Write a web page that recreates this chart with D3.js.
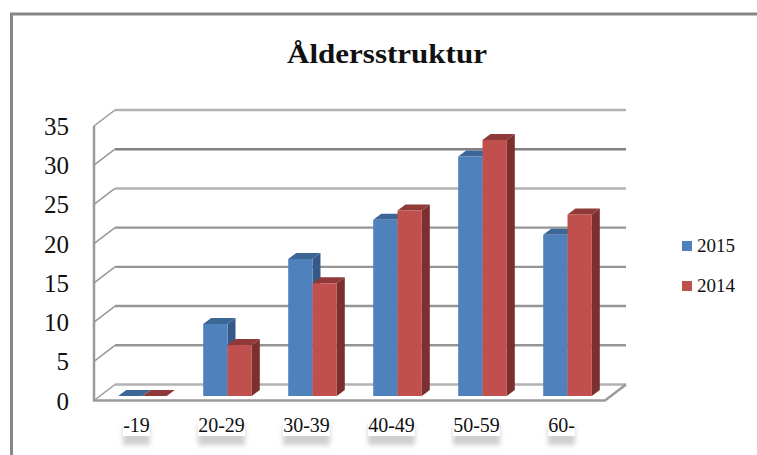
<!DOCTYPE html>
<html>
<head>
<meta charset="utf-8">
<script src="https://cdn.jsdelivr.net/npm/d3@7"></script>
<style>
    html, body { margin: 0; padding: 0; background: #fff; }
    svg { display: block; }
    text { font-family: "Liberation Serif", serif; fill: #111; }
</style>
</head>
<body>
<div id="chart"></div>
<script>
const categories = ['-19', '20-29', '30-39', '40-49', '50-59', '60-'];
const seriesNames = ['2015', '2014'];
const values2015 = [0, 9.2, 17.5, 22.5, 30.6, 20.6];
const values2014 = [0, 6.5, 14.4, 23.7, 32.7, 23.2];
const yTicks = [0, 5, 10, 15, 20, 25, 30, 35];

const colors = {
    2015: {front: '#4f81bd', top: '#3c6696', side: '#37598a'},
    2014: {front: '#c0504d', top: '#8f3a38', side: '#7b2f2e'}
};

const width = 757, height = 455;
const svg = d3.select('#chart').append('svg')
    .attr('width', width)
    .attr('height', height);

// blur for the label shadows
svg.append('defs').append('filter')
    .attr('id', 'blur')
    .attr('x', '-30%').attr('y', '-60%').attr('width', '160%').attr('height', '220%')
    .append('feGaussianBlur').attr('stdDeviation', 2.5);

// Outer frame, cut off by the screenshot on the right and bottom
svg.append('path')
    .attr('d', `M11.5,${height} V14 H${width}`)
    .attr('fill', 'none')
    .attr('stroke', '#868686')
    .attr('stroke-width', 3);

svg.append('text')
    .text('Åldersstruktur')
    .attr('x', 387)
    .attr('y', 63)
    .attr('text-anchor', 'middle')
    .attr('font-weight', 'bold')
    .attr('font-size', 28)
    .attr('textLength', 200)
    .attr('lengthAdjust', 'spacingAndGlyphs');

// Scales: the walls of the 3D box are the front scale shifted by depth
const depth = {x: 21, y: -16};
const yFront = d3.scaleLinear().domain([0, 35]).range([400.5, 126]);
const yBar = d3.scaleLinear().domain([0, 35]).range([396, 122]);
const x = d3.scaleBand().domain(categories).range([100, 610]);
const barW = 24.3, barDx = 8, barDy = 6;

// Gridlines and the slanted bit on the left wall
const grid = svg.append('g');
yTicks.forEach(t => {
    let light = t === 35 || t === 25 || t === 0;
    let y0 = yFront(t);
    let stroke = t === 30 ? '#828282' : (light ? '#b2b2b2' : '#959595');
    grid.append('line')
        .attr('x1', 94 + depth.x).attr('x2', 605 + depth.x)
        .attr('y1', y0 + depth.y).attr('y2', y0 + depth.y)
        .attr('stroke', stroke)
        .attr('stroke-width', 2.4);
    grid.append('line')
        .attr('x1', 94).attr('x2', 94 + depth.x)
        .attr('y1', y0).attr('y2', y0 + depth.y)
        .attr('stroke', '#989898')
        .attr('stroke-width', 1.5);
});

// Floor edges and left wall edge
grid.append('path')
    .attr('d', `M94,${yFront(35)} V${yFront(0)} H605 L${605 + depth.x},${yFront(0) + depth.y}`)
    .attr('fill', 'none')
    .attr('stroke', '#9a9a9a')
    .attr('stroke-width', 2.5);

// Bars, drawn left to right so that the red front covers the blue side
const rows = categories.map((c, i) => ({c, v: [values2015[i], values2014[i]]}));
const groups = svg.selectAll('.cat')
    .data(rows)
    .enter().append('g')
    .attr('class', 'cat');

seriesNames.forEach((name, s) => {
    let col = colors[name];
    let bar = d => x(d.c) + x.bandwidth() / 2 - barW + s * barW;
    let base = yBar(0);

    groups.append('path')
        .attr('fill', col.side)
        .attr('d', d => {
            let x1 = bar(d) + barW, t = yBar(d.v[s]);
            return `M${x1},${t} l${barDx},${-barDy} V${base - barDy} L${x1},${base} Z`;
        });
    groups.append('path')
        .attr('fill', col.top)
        .attr('d', d => {
            let x0 = bar(d), t = yBar(d.v[s]);
            return `M${x0},${t} l${barDx},${-barDy} h${barW} l${-barDx},${barDy} Z`;
        });
    groups.append('rect')
        .attr('fill', col.front)
        .attr('x', d => bar(d))
        .attr('y', d => yBar(d.v[s]))
        .attr('width', barW)
        .attr('height', d => base - yBar(d.v[s]));
});

// Y axis labels
const yAxis = svg.append('g')
    .attr('transform', 'translate(69,0.5)')
    .call(d3.axisLeft(yFront).tickValues(yTicks).tickSize(0).tickPadding(0));
yAxis.select('.domain').remove();
yAxis.selectAll('text')
    .style('font-family', '"Liberation Serif", serif')
    .attr('font-size', 25)
    .attr('fill', '#111');

// Category labels sit on white boxes with a soft shadow under them
const labelWidth = {'-19': 27, '60-': 27};
const labels = svg.selectAll('.cat-label')
    .data(categories)
    .enter().append('g')
    .attr('class', 'cat-label')
    .attr('transform', d => `translate(${x(d) + x.bandwidth() / 2 - 6},0)`);

labels.append('rect')
    .attr('x', d => -(labelWidth[d] || 47) / 2)
    .attr('y', 425)
    .attr('width', d => labelWidth[d] || 47)
    .attr('height', 20)
    .attr('fill', '#cfcfcf')
    .attr('filter', 'url(#blur)');
labels.append('rect')
    .attr('x', d => -(labelWidth[d] || 47) / 2)
    .attr('y', 417)
    .attr('width', d => labelWidth[d] || 47)
    .attr('height', 19)
    .attr('fill', '#fff');
labels.append('text')
    .text(d => d)
    .attr('y', 432)
    .attr('text-anchor', 'middle')
    .attr('font-size', 20);

// Legend
const legendY = d3.scalePoint().domain(seriesNames).range([246, 286]);
const legend = svg.selectAll('.legend-item')
    .data(seriesNames)
    .enter().append('g')
    .attr('class', 'legend-item')
    .attr('transform', d => `translate(682,${legendY(d)})`);
legend.append('rect')
    .attr('y', -5)
    .attr('width', 10)
    .attr('height', 10)
    .attr('fill', d => colors[d].front);
legend.append('text')
    .text(d => d)
    .attr('x', 15)
    .attr('y', 5.5)
    .attr('font-size', 19);
</script>
</body>
</html>
